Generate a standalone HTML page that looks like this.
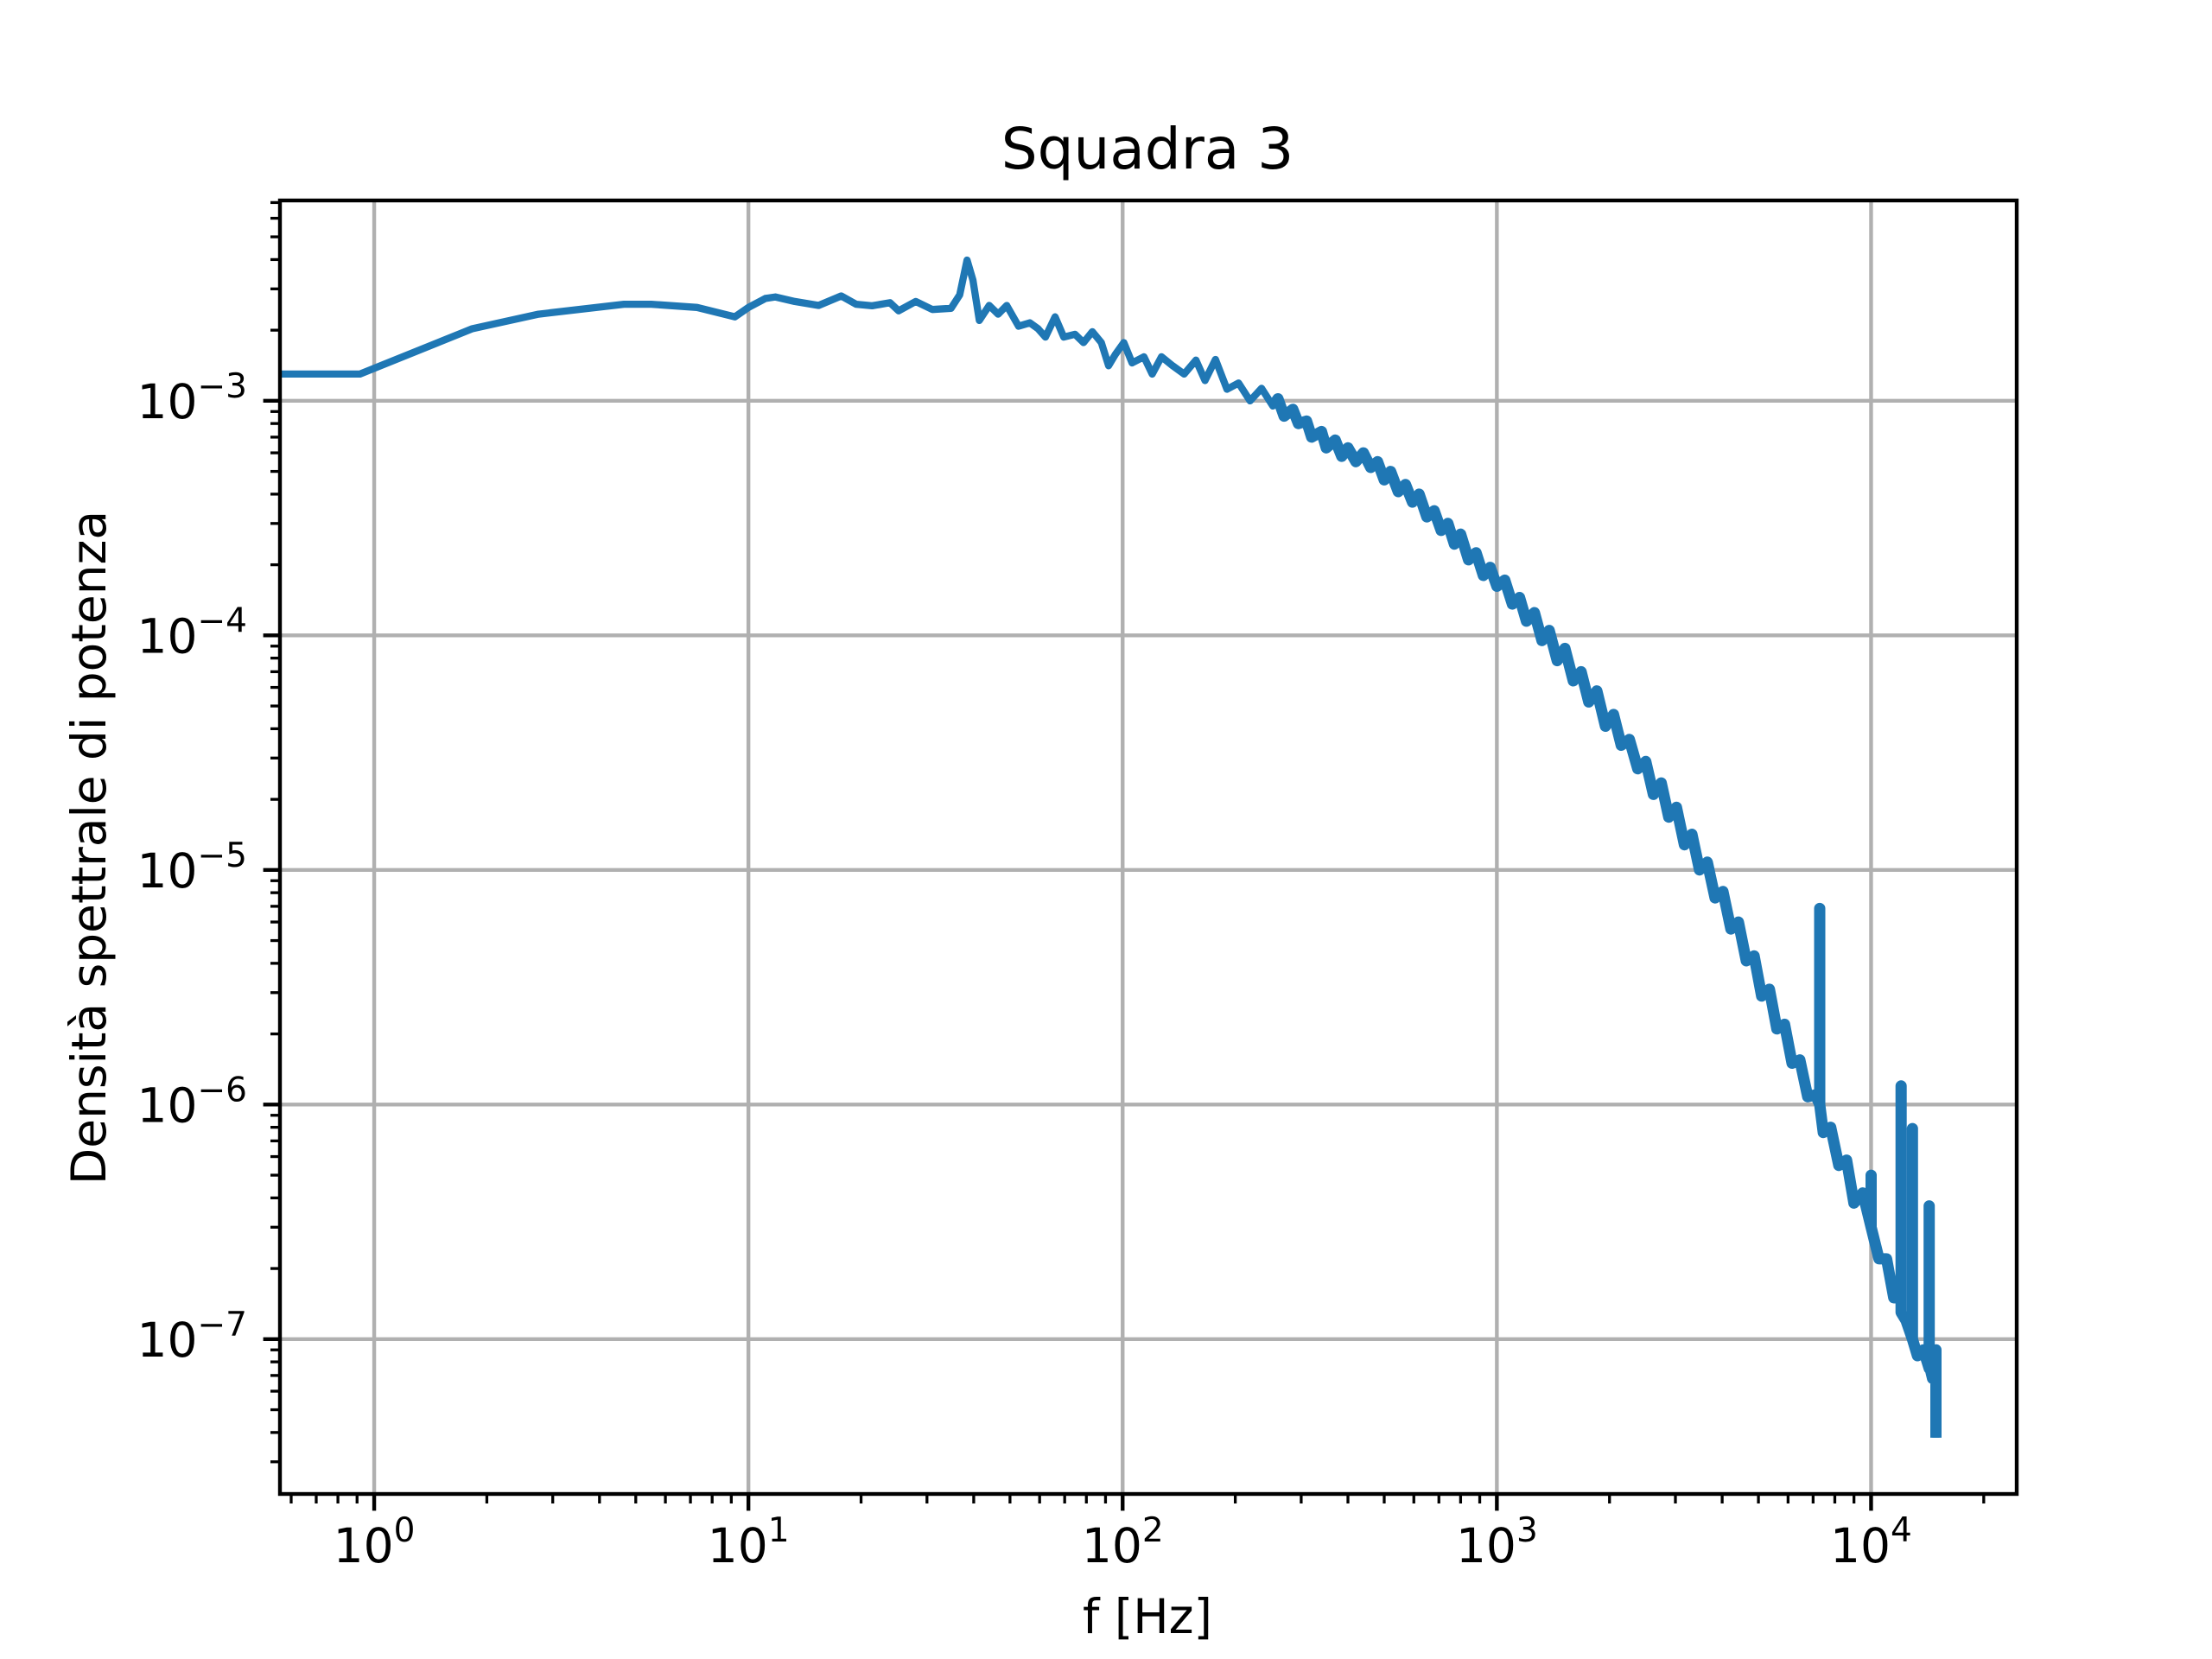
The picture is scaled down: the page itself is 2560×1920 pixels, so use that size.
<!DOCTYPE html>
<html><head><meta charset="utf-8"><style>
html,body{margin:0;padding:0;background:#fff}
svg{display:block}
text{font-family:"DejaVu Sans","Liberation Sans",sans-serif;fill:#000}
</style></head>
<body>
<svg id="chart" width="2560" height="1920" viewBox="0 0 2560 1920" xmlns="http://www.w3.org/2000/svg">
<rect x="0" y="0" width="2560" height="1920" fill="#fff"/>
<g id="grid"></g>
<g id="series"></g>
<g id="axes"></g>
<text x="1328" y="195" font-size="66" text-anchor="middle">Squadra 3</text>
<text x="1328" y="1890" font-size="55" text-anchor="middle">f [Hz]</text>
<text transform="translate(122,981) rotate(-90)" font-size="55" text-anchor="middle">Densità spettrale di potenza</text>
</svg>
<script>
const freqs = [0.56,0.916,1.83,2.75,4.65,5.5,7.29,9.2,10,11.1,11.8,13.3,15.4,17.7,19.4,21.4,23.9,25.2,28,31,34.8,36.7,38.4,39.8,41.4,44,46.5,49,52.7,56.5,59.4,62.2,66,69.6,74.6,78.6,83,87.7,91.7,95.7,100.7,106,114,120,127,136,146,157,166,177,190,204,219,235,252,
260,270,285,295,310,320,340,350,370,385,400,420,440,460,480,500,520,545,570,595,620,650,680,710,740,770,800,840,880,920,960,1000,1050,1100,1150,1200,1260,1320,1380,1450,1520,1600,1680,1760,1850,1950,2050,2150,2260,2380,2500,2620,2750,2880,3020,3170,3320,3480,3650,3830,4020,4220,4420,4640,4870,5100,5350,5600,5870,6150,6450,6770,7100,7290,7290,7290,7450,7800,8200,8600,9000,9500,10000,10000,10000,10500,11000,11500,12030,12030,12030,12400,12900,12900,12900,13300,13800,14300,14300,14300,14600,14900,14900];
const psd = [1.30e-3,1.30e-3,2.03e-3,2.34e-3,2.58e-3,2.58e-3,2.5e-3,2.28e-3,2.5e-3,2.73e-3,2.77e-3,2.65e-3,2.55e-3,2.8e-3,2.58e-3,2.54e-3,2.62e-3,2.42e-3,2.65e-3,2.45e-3,2.48e-3,2.83e-3,3.98e-3,3.27e-3,2.2e-3,2.55e-3,2.34e-3,2.55e-3,2.08e-3,2.15e-3,2.03e-3,1.87e-3,2.28e-3,1.87e-3,1.92e-3,1.77e-3,1.97e-3,1.77e-3,1.41e-3,1.58e-3,1.77e-3,1.45e-3,1.54e-3,1.30e-3,1.54e-3,1.41e-3,1.30e-3,1.49e-3,1.22e-3,1.5e-3,1.12e-3,1.19e-3,1.0e-3,1.13e-3,0.95e-3,
1.02e-3,0.86e-3,0.92e-3,0.80e-3,0.82e-3,0.70e-3,0.74e-3,0.63e-3,0.68e-3,0.58e-3,0.63e-3,0.55e-3,0.60e-3,0.52e-3,0.55e-3,0.46e-3,0.50e-3,0.41e-3,0.44e-3,0.37e-3,0.40e-3,0.32e-3,0.34e-3,0.28e-3,0.30e-3,0.245e-3,0.27e-3,0.21e-3,0.225e-3,0.18e-3,0.195e-3,0.162e-3,0.172e-3,0.136e-3,0.145e-3,0.115e-3,0.125e-3,0.095e-3,0.105e-3,0.078e-3,0.088e-3,0.064e-3,0.070e-3,0.052e-3,0.058e-3,0.041e-3,0.046e-3,0.034e-3,0.036e-3,0.027e-3,0.029e-3,0.021e-3,0.0235e-3,0.0168e-3,0.0185e-3,0.0128e-3,0.0142e-3,0.0100e-3,0.0108e-3,0.0076e-3,0.0081e-3,0.0056e-3,0.0060e-3,0.0041e-3,0.0043e-3,0.0029e-3,0.0031e-3,0.0021e-3,0.0022e-3,1.5e-6,1.55e-6,1.08e-6,1.1e-6,1.0e-6,6.85e-6,1.0e-6,0.76e-6,0.8e-6,0.55e-6,0.58e-6,0.38e-6,0.42e-6,0.3e-6,5.0e-7,0.3e-6,0.22e-6,0.22e-6,0.15e-6,0.15e-6,1.2e-6,0.13e-6,0.12e-6,0.1e-6,7.9e-7,0.1e-6,0.085e-6,0.09e-6,0.075e-6,3.7e-7,0.078e-6,0.068e-6,0.09e-6,3.8e-8];
const xTickExps = [0,1,2,3,4];
const yTickExps = [-3,-4,-5,-6,-7];
const denseFrom = 250;

const NS='http://www.w3.org/2000/svg';
const L=324,R=2334,T=232,B=1729;
const xMinLog=Math.log10(0.56),xMaxLog=Math.log10(24500);
const yMinLog=-7.66,yMaxLog=-2.146;
function xs(f){return L+(Math.log10(f)-xMinLog)/(xMaxLog-xMinLog)*(R-L);}
function ys(v){return B-(Math.log10(v)-yMinLog)/(yMaxLog-yMinLog)*(B-T);}
function mk(tag,attrs,parent){const e=document.createElementNS(NS,tag);for(const k in attrs)e.setAttribute(k,attrs[k]);parent.appendChild(e);return e;}
const grid=document.getElementById('grid'),axes=document.getElementById('axes'),series=document.getElementById('series');

xTickExps.forEach(e=>{
  const x=xs(Math.pow(10,e));
  const g=mk('line',{x1:x,x2:x,y1:T,y2:B,stroke:'#b0b0b0','stroke-width':4.4},grid);
  
  
  const t=mk('line',{x1:x,x2:x,y1:B,y2:B+19.4,stroke:'#000','stroke-width':4.4},axes);
  
  
  const lb=mk('text',{x:x,y:1808,'font-size':55,'text-anchor':'middle'},axes);
  lb.innerHTML='10<tspan dy="-24" font-size="39">'+e+'</tspan>';
  
  
});
for(let e=-1;e<=4;e++)for(let m=2;m<=9;m++){
  const f=m*Math.pow(10,e);const lf=Math.log10(f);
  if(lf<xMinLog||lf>xMaxLog)continue;
  const x=xs(f);
  const t=mk('line',{x1:x,x2:x,y1:B,y2:B+11,stroke:'#000','stroke-width':3.3},axes);
  
  
}
yTickExps.forEach(e=>{
  const y=ys(Math.pow(10,e));
  const g=mk('line',{x1:L,x2:R,y1:y,y2:y,stroke:'#b0b0b0','stroke-width':4.4},grid);
  
  
  const t=mk('line',{x1:L-19.4,x2:L,y1:y,y2:y,stroke:'#000','stroke-width':4.4},axes);
  
  
  const lb=mk('text',{x:286,y:y+20,'font-size':55,'text-anchor':'end'},axes);
  lb.innerHTML='10<tspan dy="-24" font-size="39">\u2212'+Math.abs(e)+'</tspan>';
  
  
});
for(let e=-8;e<=-2;e++)for(let m=2;m<=9;m++){
  const v=m*Math.pow(10,e);const lv=Math.log10(v);
  if(lv<yMinLog||lv>yMaxLog)continue;
  const y=ys(v);
  const t=mk('line',{x1:L-11,x2:L,y1:y,y2:y,stroke:'#000','stroke-width':3.3},axes);
  
  
}
let d='',d2='',started=false;
freqs.forEach((f,i)=>{
  const pt=xs(f).toFixed(1)+' '+ys(psd[i]).toFixed(1);
  d+=(i?'L':'M')+pt;
  if(f>=denseFrom){d2+=(started?'L':'M')+pt;started=true;}
});
const p=mk('path',{d:d,fill:'none',stroke:'#1f77b4','stroke-width':8.3,'stroke-linejoin':'round','stroke-linecap':'butt'},series);


const p2=mk('path',{d:d2,fill:'none',stroke:'#1f77b4','stroke-width':13,'stroke-linejoin':'round','stroke-linecap':'butt'},series);


const fr=mk('rect',{x:L,y:T,width:R-L,height:B-T,fill:'none',stroke:'#000','stroke-width':4.4},axes);


</script>
</body></html>
